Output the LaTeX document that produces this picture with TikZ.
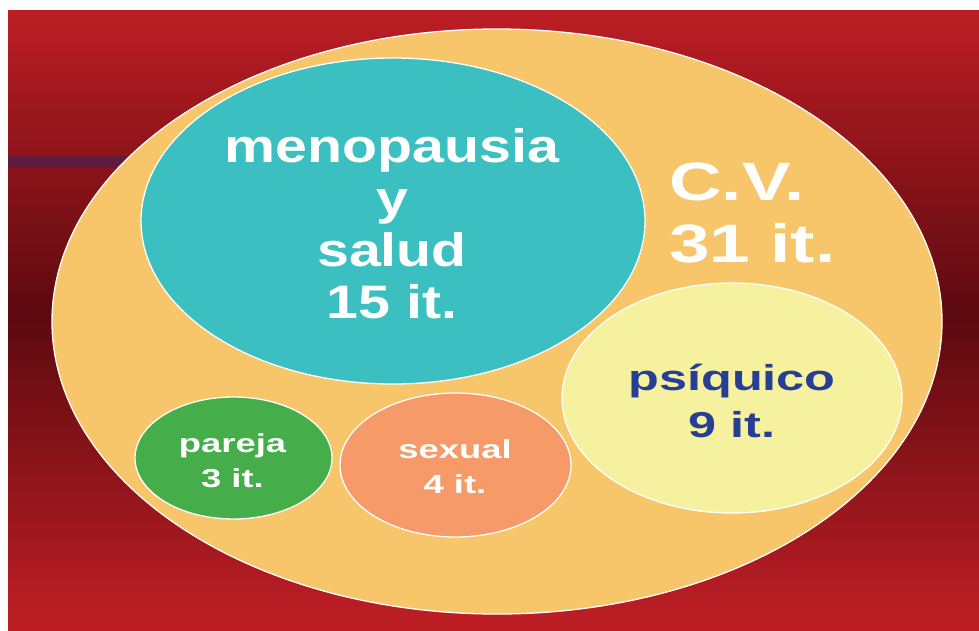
\documentclass[tikz,border=0pt]{standalone}
\usepackage{fontspec}
\usepackage{graphicx}
\setmainfont{Liberation Sans}
\definecolor{bgred}{HTML}{BC1E24}
\definecolor{bgdark}{HTML}{5C0A10}
\definecolor{stripe}{HTML}{5E1B3E}
\definecolor{cvfill}{HTML}{F7C56A}
\definecolor{tealfill}{HTML}{3BBFC0}
\definecolor{greenfill}{HTML}{45AE4A}
\definecolor{salmonfill}{HTML}{F59A68}
\definecolor{yellowfill}{HTML}{F5F19E}
\definecolor{navy}{HTML}{263F94}
\tikzset{
  blob/.style={draw=white, line width=1.3pt},
  txt/.style={anchor=base, inner sep=0pt, text=white, font=\bfseries},
}
\newcommand{\wide}[2]{\scalebox{#1}[1]{#2}}
\begin{document}
\begin{tikzpicture}[x=1pt,y=-1pt]
\useasboundingbox (0,0) rectangle (979,630);
\fill[white] (0,0) rectangle (979,630);
\foreach \i in {0,...,123} {
  \pgfmathsetmacro\yy{10+5*\i}
  \pgfmathsetmacro\tt{min(100,abs(\yy+2.5-315)/305*100)}
  \fill[bgred!\tt!bgdark] (8,\yy) rectangle (979,\yy+5.6);
}
\fill[stripe] (8,156) rectangle (200,168);
% big ellipse
\draw[blob, fill=cvfill] (497,321.5) ellipse [x radius=445, y radius=292.5];
% teal
\draw[blob, fill=tealfill] (393,221) ellipse [x radius=252, y radius=163];
% psiquico
\draw[blob, fill=yellowfill] (732,398) ellipse [x radius=170, y radius=115];
% pareja
\draw[blob, fill=greenfill] (233.5,458) ellipse [x radius=98.5, y radius=61];
% sexual
\draw[blob, fill=salmonfill] (455.5,465) ellipse [x radius=115.5, y radius=72];
% texts
\node[txt, font=\bfseries\fontsize{47}{52}\selectfont] (m1) at (392,162) {\wide{1.22}{menopausia}};
\node[txt, font=\bfseries\fontsize{47}{52}\selectfont] (m2) at (392,214) {\wide{1.22}{y}};
\node[txt, font=\bfseries\fontsize{47}{52}\selectfont] (m3) at (392,266) {\wide{1.22}{salud}};
\node[txt, font=\bfseries\fontsize{47}{52}\selectfont] (m4) at (392,318) {\wide{1.22}{15 it.}};
\node[txt, anchor=base west, font=\bfseries\fontsize{54}{60}\selectfont] (c1) at (669,200) {\wide{1.35}{C.V.}};
\node[txt, anchor=base west, font=\bfseries\fontsize{54}{60}\selectfont] (c2) at (669,262) {\wide{1.35}{31 it.}};
\node[txt, text=navy, font=\bfseries\fontsize{36}{44}\selectfont] (p1) at (732,390) {\wide{1.4}{psíquico}};
\node[txt, text=navy, font=\bfseries\fontsize{36}{44}\selectfont] (p2) at (732,437) {\wide{1.4}{9 it.}};
\node[txt, font=\bfseries\fontsize{26}{32}\selectfont] (r1) at (232.5,452) {\wide{1.4}{pareja}};
\node[txt, font=\bfseries\fontsize{26}{32}\selectfont] (r2) at (232.5,487) {\wide{1.4}{3 it.}};
\node[txt, font=\bfseries\fontsize{26}{32}\selectfont] (s1) at (455,458) {\wide{1.4}{sexual}};
\node[txt, font=\bfseries\fontsize{26}{32}\selectfont] (s2) at (455,493) {\wide{1.4}{4 it.}};
\end{tikzpicture}
\end{document}
